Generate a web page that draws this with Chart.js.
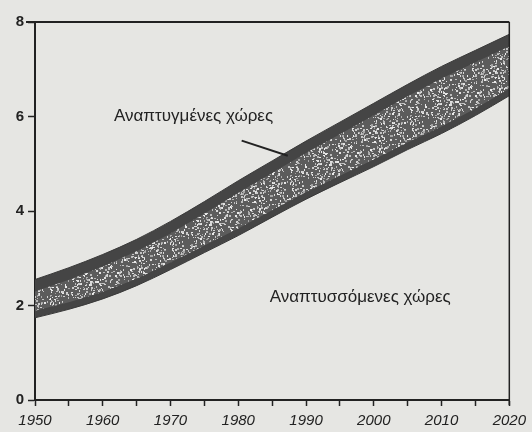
<!DOCTYPE html>
<html>
<head>
<meta charset="utf-8">
<script src="https://cdn.jsdelivr.net/npm/chart.js@4.4.1/dist/chart.umd.min.js"></script>
<style>
  html, body { margin: 0; padding: 0; background: #e6e6e3; }
  #wrap { width: 532px; height: 432px; }
</style>
</head>
<body>
<div id="wrap"><canvas id="c" width="532" height="432"></canvas></div>
<script>
// world population (billions)
const years      = [1950, 1955, 1960, 1965, 1970, 1975, 1980, 1985, 1990, 1995, 2000, 2005, 2010, 2015, 2020]
const developing = [1.74, 1.92, 2.14, 2.42, 2.76, 3.12, 3.48, 3.87, 4.25, 4.60, 4.94, 5.30, 5.64, 6.02, 6.44]
const world      = [2.55, 2.80, 3.08, 3.40, 3.78, 4.20, 4.64, 5.06, 5.48, 5.88, 6.28, 6.68, 7.06, 7.40, 7.74]
const xTickLabels = [1950, 1960, 1970, 1980, 1990, 2000, 2010, 2020]
const yTickLabels = [0, 2, 4, 6, 8]

const labelDeveloped  = 'Αναπτυγμένες χώρες'
const labelDeveloping = 'Αναπτυσσόμενες χώρες'

const INK = '#222222'
const FONT = "'Liberation Sans Narrow', 'Liberation Sans', Arial, sans-serif"

// texture for the inner part of the band (fixed seed, not data)
function speckle(ctx) {
  const c = document.createElement('canvas')
  c.width = c.height = 60
  const g = c.getContext('2d')
  g.fillStyle = '#5c5c5c'
  g.fillRect(0, 0, 60, 60)
  let s = 12345
  const next = () => (s = (s * 16807) % 2147483647) / 2147483647
  for (let i = 0; i < 460; i++) {
    const v = 160 + Math.floor(next() * 80)
    g.fillStyle = `rgb(${v},${v},${v})`
    g.fillRect(Math.floor(next() * 60), Math.floor(next() * 60), 1 + Math.floor(next() * 2), 1 + Math.floor(next() * 2))
  }
  return ctx.createPattern(c, 'repeat')
}

const background = {
  id: 'background',
  beforeDraw(chart) {
    const ctx = chart.ctx
    ctx.save()
    ctx.fillStyle = '#e6e6e3'
    ctx.fillRect(0, 0, chart.width, chart.height)
    ctx.restore()
  }
}

const bandTexture = {
  id: 'bandTexture',
  afterDatasetsDraw(chart) {
    const lo = chart.getDatasetMeta(0).data
    const hi = chart.getDatasetMeta(1).data
    const ctx = chart.ctx
    const a = chart.chartArea
    ctx.save()
    ctx.beginPath()
    ctx.rect(a.left, a.top, a.right - a.left, a.bottom - a.top)
    ctx.clip()
    ctx.beginPath()
    hi.forEach((p, i) => i ? ctx.lineTo(p.x, p.y + 12) : ctx.moveTo(p.x, p.y + 12))
    for (let i = lo.length - 1; i >= 0; i--) ctx.lineTo(lo[i].x, lo[i].y - 7)
    ctx.closePath()
    ctx.fillStyle = speckle(ctx)
    ctx.fill()
    ctx.restore()
  }
}

const frame = {
  id: 'frame',
  afterDraw(chart) {
    const ctx = chart.ctx
    const a = chart.chartArea
    ctx.save()
    ctx.strokeStyle = INK
    ctx.lineWidth = 2
    ctx.beginPath()
    ctx.moveTo(a.left - 9, a.top)
    ctx.lineTo(a.right, a.top)
    ctx.stroke()
    ctx.lineWidth = 1.5
    ctx.beginPath()
    ctx.moveTo(a.right, a.top)
    ctx.lineTo(a.right, a.bottom + 5)
    ctx.stroke()
    ctx.restore()
  }
}

const notes = {
  id: 'notes',
  afterDraw(chart) {
    const x = chart.scales.x
    const y = chart.scales.y
    const ctx = chart.ctx
    ctx.save()
    ctx.fillStyle = INK
    ctx.font = `17px ${FONT}`
    ctx.textAlign = 'center'
    ctx.textBaseline = 'middle'
    ctx.fillText(labelDeveloped, x.getPixelForValue(1973.4), y.getPixelForValue(6.0))
    ctx.fillText(labelDeveloping, x.getPixelForValue(1998.0), y.getPixelForValue(2.17))
    ctx.strokeStyle = INK
    ctx.lineWidth = 2
    ctx.beginPath()
    ctx.moveTo(x.getPixelForValue(1980.5), y.getPixelForValue(5.49))
    ctx.lineTo(x.getPixelForValue(1987.3), y.getPixelForValue(5.17))
    ctx.stroke()
    ctx.restore()
  }
}

new Chart(document.getElementById('c'), {
  type: 'line',
  data: {
    datasets: [
      {
        data: years.map((yr, i) => ({ x: yr, y: developing[i] })),
        borderColor: '#3a3a3a',
        borderWidth: 1,
        pointRadius: 0,
        fill: false,
        cubicInterpolationMode: 'monotone'
      },
      {
        data: years.map((yr, i) => ({ x: yr, y: world[i] })),
        borderColor: '#3a3a3a',
        borderWidth: 1,
        backgroundColor: '#454545',
        pointRadius: 0,
        fill: '-1',
        cubicInterpolationMode: 'monotone'
      }
    ]
  },
  options: {
    responsive: false,
    animation: false,
    layout: { padding: { top: 22, right: 18, left: 0, bottom: 0 } },
    plugins: { legend: { display: false }, tooltip: { enabled: false } },
    scales: {
      x: {
        type: 'linear',
        min: 1950,
        max: 2020,
        afterFit: s => { s.height = 32 },
        ticks: {
          stepSize: 5,
          autoSkip: false,
          maxRotation: 0,
          padding: 6,
          color: INK,
          font: { family: FONT, size: 15, style: 'italic' },
          callback: v => xTickLabels.includes(v) ? String(v) : ''
        },
        grid: { drawOnChartArea: false, tickLength: 6, tickColor: INK, tickWidth: 1.5 },
        border: { color: INK, width: 2 }
      },
      y: {
        min: 0,
        max: 8,
        afterFit: s => { s.width = 35 },
        ticks: {
          stepSize: 2,
          padding: 4,
          color: INK,
          font: { family: FONT, size: 15, weight: 'bold' },
          callback: v => yTickLabels.includes(v) ? String(v) : ''
        },
        grid: { drawOnChartArea: false, tickLength: 7, tickColor: INK, tickWidth: 1.5 },
        border: { color: INK, width: 2 }
      }
    }
  },
  plugins: [background, bandTexture, frame, notes]
})
</script>
</body>
</html>
